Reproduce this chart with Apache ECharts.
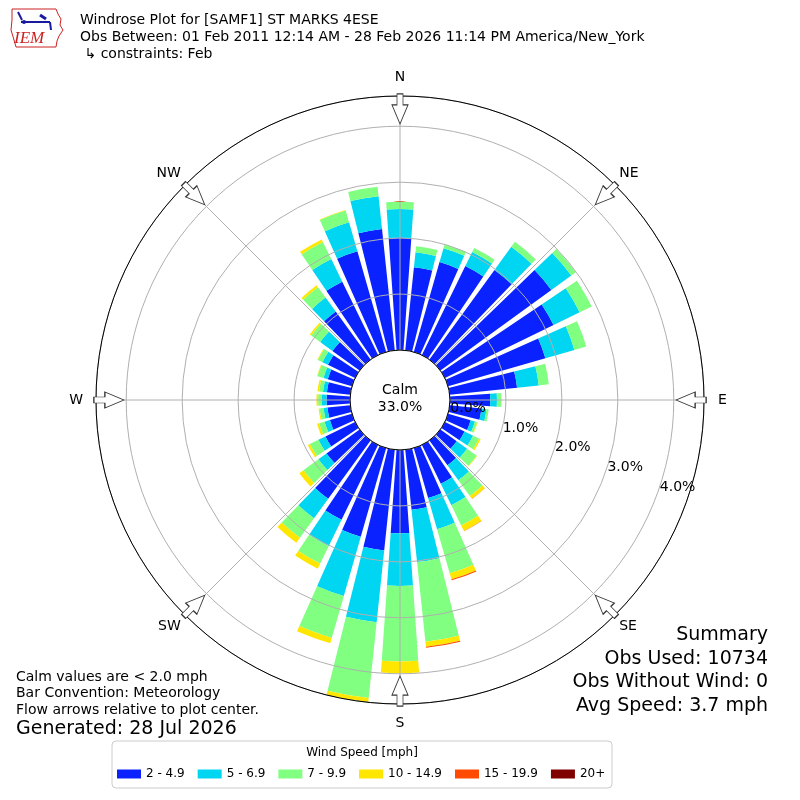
<!DOCTYPE html>
<html><head><meta charset="utf-8">
<script src="https://cdn.jsdelivr.net/npm/echarts@6/dist/echarts.min.js"></script>
<style>html,body{margin:0;padding:0;background:#fff}#c{width:800px;height:800px}</style>
</head><body><div id="c"></div>
<script>
// ---- data ----
const directions = ['0','10','20','30','40','50','60','70','80','90','100','110','120','130','140','150','160','170',
  '180','190','200','210','220','230','240','250','260','270','280','290','300','310','320','330','340','350'];
const speedBins = ['2 - 4.9','5 - 6.9','7 - 9.9','10 - 14.9','15 - 19.9','20+'];
const binColors = ['#0a22ff','#00d5f2','#80ff80','#ffe600','#ff4a00','#800000'];
const s2to5   = [2.01,1.49,1.67,1.77,1.98,2.45,2.16,1.81,1.21,0.72,0.57,0.42,0.39,0.36,0.55,0.77,0.93,1.08,1.49,1.81,1.65,1.49,1.29,0.73,0.59,0.41,0.41,0.42,0.42,0.45,0.54,0.60,1.06,1.46,1.87,2.18];
const s5to7   = [0.51,0.27,0.26,0.28,0.51,0.44,0.52,0.54,0.39,0.12,0.09,0.08,0.17,0.23,0.33,0.43,0.58,0.94,0.94,1.29,1.10,0.52,0.43,0.18,0.14,0.10,0.07,0.09,0.07,0.08,0.11,0.27,0.31,0.45,0.54,0.59];
const s7to10  = [0.13,0.11,0.07,0.08,0.11,0.10,0.24,0.22,0.18,0.08,0.04,0.04,0.12,0.21,0.35,0.40,0.82,1.43,1.35,1.36,0.78,0.35,0.43,0.33,0.17,0.10,0.07,0.06,0.07,0.11,0.09,0.20,0.23,0.34,0.22,0.17];
const s10to15 = [0,0,0,0,0,0,0,0,0,0,0,0.01,0.03,0.01,0.06,0.11,0.11,0.09,0.21,0.08,0.10,0.10,0.11,0.09,0.04,0.04,0.02,0.03,0.03,0.01,0.01,0.03,0.04,0.05,0.01,0];
const s15to20 = [0,0,0,0,0,0,0,0,0,0,0,0,0,0,0.005,0.005,0.02,0.02,0,0,0,0,0,0,0,0,0,0,0,0,0,0,0,0,0,0];
const s20plus = [0,0,0,0,0,0,0,0,0,0,0,0,0,0,0,0,0,0,0,0,0,0,0,0,0,0,0,0,0,0,0,0,0,0,0,0];
const binValues = [s2to5, s5to7, s7to10, s10to15, s15to20, s20plus];
const compassNames = ['N','NE','E','SE','S','SW','W','NW'];
const compassAngles = [0,45,90,135,180,225,270,315];
const radiusTicks = [0,1,2,3,4];
const headerLines = ['Windrose Plot for [SAMF1] ST MARKS 4ESE',
  'Obs Between: 01 Feb 2011 12:14 AM - 28 Feb 2026 11:14 PM America/New_York',
  ' \u21b3 constraints: Feb'];
const calmLines = ['Calm','33.0%'];
const noteLines = ['Calm values are < 2.0 mph','Bar Convention: Meteorology','Flow arrows relative to plot center.'];
const generatedLine = 'Generated: 28 Jul 2026';
const summaryLines = ['Summary','Obs Used: 10734','Obs Without Wind: 0','Avg Speed: 3.7 mph'];
const legendTitle = 'Wind Speed [mph]';

// ---- layout ----
const FONT = 'DejaVu Sans';
const C = [400, 400], R0 = 50, R1 = 304, RMAX = 4.54;
const arrowPath = 'path://M5,0 L11,0 L11,11 L16,11 L8,30 L0,11 L5,11 Z';
const labelRich = {
  n: {padding: [0, 0, 6, 0], fontSize: 14, fontFamily: FONT, color: '#000'},
  s: {padding: [6, 0, 0, 0], fontSize: 14, fontFamily: FONT, color: '#000'},
  e: {padding: [0, 0, 0, 8], fontSize: 14, fontFamily: FONT, color: '#000'},
  w: {padding: [0, 7, 0, 0], fontSize: 14, fontFamily: FONT, color: '#000'},
  d: {fontSize: 14, fontFamily: FONT, color: '#000'}
};
const richKey = {N: 'n', S: 's', E: 'e', W: 'w'};

const chart = echarts.init(document.getElementById('c'), null, {renderer: 'canvas'});
const barSeries = speedBins.map((name, i) => ({
  type: 'bar', name, coordinateSystem: 'polar', polarIndex: 0, stack: 'wind',
  data: binValues[i], barCategoryGap: '20%', z: 2, silent: true,
  itemStyle: {color: binColors[i]}
}));
const option = {
  animation: false,
  backgroundColor: '#fff',
  color: binColors,
  polar: [
    {center: C, radius: [R0, R1]},
    {center: C, radius: [R0, R1]},
    {center: C, radius: [R0, R1]}
  ],
  angleAxis: [
    {polarIndex: 0, type: 'category', data: directions, startAngle: 95, clockwise: true,
      axisLine: {show: false}, axisTick: {show: false}, axisLabel: {show: false}, splitLine: {show: false}},
    {polarIndex: 1, type: 'value', min: 0, max: 360, interval: 45, startAngle: 90, clockwise: true, z: 3,
      axisLine: {show: true, lineStyle: {color: '#000', width: 1}},
      axisTick: {show: false},
      axisLabel: {margin: 6, fontSize: 14, fontFamily: FONT, color: '#000', rich: labelRich,
        formatter: v => {
          const k = compassAngles.indexOf(v);
          if (k < 0) return '';
          const name = compassNames[k];
          return '{' + (richKey[name] || 'd') + '|' + name + '}';
        }},
      splitLine: {show: true, lineStyle: {color: '#b0b0b0', width: 1}}},
    {polarIndex: 2, type: 'value', min: 0, max: 360, startAngle: -20.6, show: false}
  ],
  radiusAxis: [
    {polarIndex: 0, min: 0, max: RMAX, show: false},
    {polarIndex: 1, min: 0, max: RMAX, interval: 1, z: 3,
      axisLine: {show: false}, axisTick: {show: false}, axisLabel: {show: false},
      splitLine: {show: true, lineStyle: {color: '#b0b0b0', width: 1}}},
    {polarIndex: 2, min: 0, max: RMAX, interval: 1, z: 3,
      axisLine: {show: false}, axisTick: {show: false}, splitLine: {show: false},
      axisLabel: {show: true, margin: 10, showMaxLabel: false, fontSize: 14, fontFamily: FONT, color: '#000',
        formatter: v => radiusTicks.indexOf(v) >= 0 ? v.toFixed(1) + '%' : ''}}
  ],
  legend: {
    data: speedBins, left: 112, top: 768, padding: [0, 5], orient: 'horizontal',
    icon: 'rect', itemWidth: 24, itemHeight: 9, itemGap: 13,
    textStyle: {fontSize: 12, fontFamily: FONT, color: '#000'}, selectedMode: false
  },
  series: barSeries.concat([{
    type: 'scatter', coordinateSystem: 'polar', polarIndex: 1, silent: true, z: 5,
    symbol: arrowPath, symbolSize: [16, 30],
    itemStyle: {color: '#fff', borderColor: '#333', borderWidth: 1, opacity: 1},
    data: compassAngles.map(a => ({value: [4.31, a], symbolRotate: -a}))
  }]),
  graphic: {elements: [
    {type: 'rect', z: 0, shape: {x: 112, y: 741, width: 500, height: 47, r: 4},
      style: {fill: '#fff', stroke: '#cccccc', lineWidth: 1}},
    {type: 'text', z: 1, x: 362, y: 753, style: {text: legendTitle, fontSize: 12, fontFamily: FONT, fill: '#000',
      align: 'center', verticalAlign: 'middle', textAlign: 'center', textVerticalAlign: 'middle'}},
    {type: 'text', x: 80, y: 11.5, style: {text: headerLines.join('\n'), fontSize: 14, fontFamily: FONT, fill: '#000',
      lineHeight: 17, align: 'left', verticalAlign: 'top', textAlign: 'left', textVerticalAlign: 'top'}},
    {type: 'text', z: 10, x: 400, y: 381.5, style: {text: calmLines.join('\n'), fontSize: 14, fontFamily: FONT, fill: '#000',
      lineHeight: 17, align: 'center', verticalAlign: 'top', textAlign: 'center', textVerticalAlign: 'top'}},
    {type: 'text', x: 16, y: 668.75, style: {text: noteLines.join('\n'), fontSize: 14, fontFamily: FONT, fill: '#000',
      lineHeight: 16.5, align: 'left', verticalAlign: 'top', textAlign: 'left', textVerticalAlign: 'top'}},
    {type: 'text', x: 16, y: 729, style: {text: generatedLine, fontSize: 19, fontFamily: FONT, fill: '#000',
      align: 'left', verticalAlign: 'middle', textAlign: 'left', textVerticalAlign: 'middle'}},
    {type: 'text', x: 768, y: 623.5, style: {text: summaryLines.join('\n'), fontSize: 19, fontFamily: FONT, fill: '#000',
      lineHeight: 23.5, align: 'right', verticalAlign: 'top', textAlign: 'right', textVerticalAlign: 'top'}},
    // IEM logo (approximation)
    {type: 'group', x: 0, y: 0, children: [
      {type: 'polyline', shape: {points: [[12,9],[56,9],[58,14],[61,19],[60,25],[63,30],[59,36],[57,41],[56,47],[16,47],[14,40],[11,30],[12,20],[12,9]]},
        style: {stroke: '#cc2222', lineWidth: 1, fill: null}},
      {type: 'line', shape: {x1: 21, y1: 22, x2: 50, y2: 22}, style: {stroke: '#1a1aa0', lineWidth: 2}},
      {type: 'line', shape: {x1: 18, y1: 12, x2: 22, y2: 20}, style: {stroke: '#1a1aa0', lineWidth: 2}},
      {type: 'line', shape: {x1: 40, y1: 15, x2: 46, y2: 19}, style: {stroke: '#1a1aa0', lineWidth: 3}},
      {type: 'line', shape: {x1: 50, y1: 22, x2: 51, y2: 30}, style: {stroke: '#1a1aa0', lineWidth: 2}},
      {type: 'circle', shape: {cx: 24, cy: 22, r: 2}, style: {fill: '#1a1aa0'}},
      {type: 'text', x: 14, y: 39, style: {text: 'IEM', fontSize: 17, fontStyle: 'italic', fontFamily: 'Liberation Serif', fill: '#cc2222',
        align: 'left', verticalAlign: 'middle', textAlign: 'left', textVerticalAlign: 'middle'}}
    ]}
  ]}
};
chart.setOption(option);
</script></body></html>
